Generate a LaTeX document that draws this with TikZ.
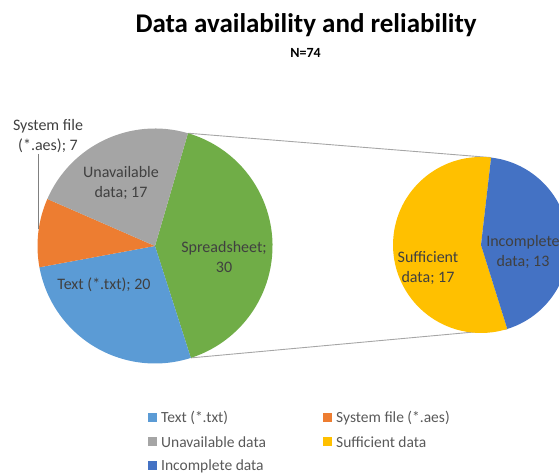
\documentclass[tikz,border=0pt]{standalone}
\usepackage{fontspec}
\setmainfont{Carlito}
\usetikzlibrary{calc}

\definecolor{cText}{HTML}{5B9BD5}
\definecolor{cSys}{HTML}{ED7D31}
\definecolor{cUnav}{HTML}{A5A5A5}
\definecolor{cSuff}{HTML}{FFC000}
\definecolor{cIncomp}{HTML}{4472C4}
\definecolor{cSheet}{HTML}{70AD47}
\definecolor{lblText}{HTML}{404040}
\definecolor{legText}{HTML}{595959}
\definecolor{leader}{HTML}{A6A6A6}

\tikzset{
  datalabel/.style={text=lblText, align=center, inner sep=0pt,
    font=\fontsize{16}{20}\selectfont},
  legendkey/.style={minimum size=9pt, inner sep=0pt},
  legendtext/.style={text=legText, anchor=west, inner sep=0pt,
    font=\fontsize{15.5}{18}\selectfont},
  connector/.style={draw=leader, line width=0.9pt},
}

\newcommand{\pieslice}[5]{% colour, centre, radius, start, end
  \fill[#1] (#2) -- ([shift={(#4:#3)}]#2)
    arc[start angle=#4, end angle=#5, radius=#3] -- cycle;}

\begin{document}
\begin{tikzpicture}[x=1pt, y=1pt]
\useasboundingbox (0,0) rectangle (559,473);
\clip (0,0) rectangle (559,473);

% titles
\node[anchor=base, inner sep=0pt, font=\fontsize{27}{32}\selectfont\bfseries]
  (title) at (306,440) {Data availability and reliability};
\node[anchor=base, inner sep=0pt, font=\fontsize{14}{16}\selectfont\bfseries]
  (count) at (305.5,415) {N=74};

% pie centres
\coordinate (L) at (155,227);
\coordinate (R) at (481,228);

% connector end points on the two pies
\coordinate (Ltop) at ([shift={(73.7:117.5)}]L);
\coordinate (Lbot) at ([shift={(-72.25:117.5)}]L);
\coordinate (Rtop) at ([shift={(83.4:88)}]R);
\coordinate (Rbot) at ([shift={(-72.6:88)}]R);
\draw[connector] (Ltop) -- (Rtop);
\draw[connector] (Lbot) -- (Rbot);

% main pie
\pieslice{cSheet}{L}{117.5}{73.7}{-72.25}
\pieslice{cText}{L}{117.5}{-72.25}{-169.55}
\pieslice{cSys}{L}{117.5}{-169.55}{-203.6}
\pieslice{cUnav}{L}{117.5}{-203.6}{-286.3}

% secondary pie
\pieslice{cSuff}{R}{88}{83.4}{287.4}
\pieslice{cIncomp}{R}{88}{-72.6}{83.4}

% data labels
\node[datalabel] (lUnav) at (121,290) {Unavailable\\data; 17};
\node[datalabel] (lSheet) at (224,216) {Spreadsheet;\\30};
\node[datalabel] (lText) at (104,188) {Text (*.txt); 20};
\node[datalabel] (lSys) at (48,336.5) {System file\\(*.aes); 7};
\node[datalabel] (lSuff) at (428,205) {Sufficient\\data; 17};
\node[datalabel] (lIncomp) at (523,221) {Incomplete\\data; 13};

% leader line for the small slice
\coordinate (sysEdge) at ([shift={(171.5:117.5)}]L);
\coordinate (sysTop) at (sysEdge |- 0,319);
\draw[connector, line width=0.8pt, draw=gray] (sysTop) -- (sysEdge);

% legend
\node[legendkey, fill=cText] (k1) at (152.5,55) {};
\node[legendtext] (t1) at (161,55) {Text (*.txt)};
\node[legendkey, fill=cSys] (k2) at (327.5,55) {};
\node[legendtext] (t2) at (336,55) {System file (*.aes)};
\node[legendkey, fill=cUnav] (k3) at (152.5,31) {};
\node[legendtext] (t3) at (161,31) {Unavailable data};
\node[legendkey, fill=cSuff] (k4) at (327.5,31) {};
\node[legendtext] (t4) at (336,31) {Sufficient data};
\node[legendkey, fill=cIncomp] (k5) at (152.5,7) {};
\node[legendtext] (t5) at (161,7) {Incomplete data};
\end{tikzpicture}
\end{document}
